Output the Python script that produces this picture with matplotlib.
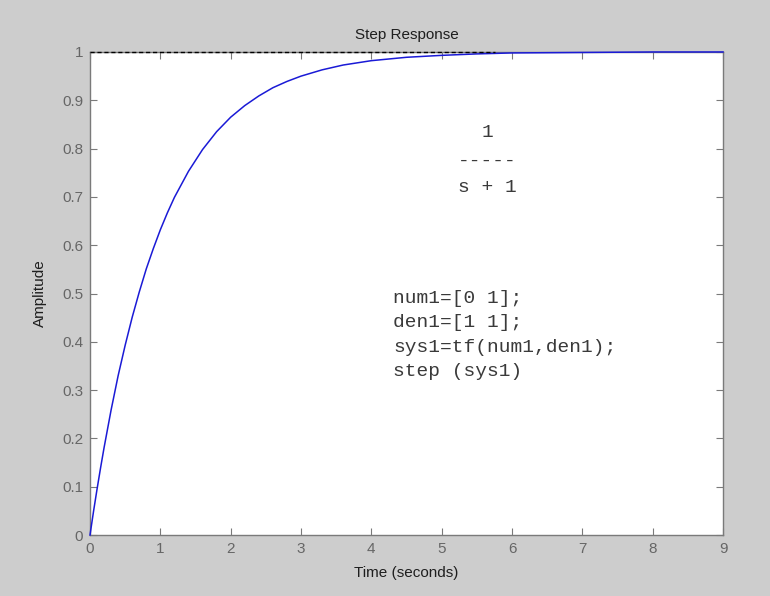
import matplotlib
matplotlib.use("Agg")
import matplotlib.pyplot as plt

# step response samples
time_s = [0, 0.05, 0.1, 0.15, 0.2, 0.3, 0.4, 0.5, 0.6, 0.7, 0.8, 0.9, 1.0,
          1.1, 1.2, 1.4, 1.6, 1.8, 2.0, 2.2, 2.4, 2.6, 2.8, 3.0, 3.3, 3.6,
          4.0, 4.5, 5.0, 5.5, 6.0, 7.0, 8.0, 9.0]
amplitude = [0, 0.049, 0.095, 0.139, 0.181, 0.259, 0.330, 0.393, 0.451, 0.503,
             0.551, 0.593, 0.632, 0.667, 0.699, 0.753, 0.798, 0.835, 0.865,
             0.889, 0.909, 0.926, 0.939, 0.950, 0.963, 0.973, 0.982, 0.989,
             0.993, 0.996, 0.998, 0.999, 1.0, 1.0]
steady_t = [0, 5.76]
steady_y = [1, 1]

x_ticks = list(range(0, 10))
y_ticks = [0, 0.1, 0.2, 0.3, 0.4, 0.5, 0.6, 0.7, 0.8, 0.9, 1]
y_labels = ["0", "0.1", "0.2", "0.3", "0.4", "0.5", "0.6", "0.7", "0.8", "0.9", "1"]

tf_lines = ["1", "-----", "s + 1"]
code_lines = ["num1=[0 1];", "den1=[1 1];", "sys1=tf(num1,den1);", "step (sys1)"]

plt.rcParams["font.family"] = ["Liberation Sans", "DejaVu Sans"]

bg = "#cdcdcd"
axis_gray = "#7a7a7a"

fig = plt.figure(figsize=(7.7, 5.96), dpi=100, facecolor=bg)
ax = fig.add_axes([0.1169, 0.1023, 0.8221, 0.8105])
ax.set_facecolor("white")

# draw on top of the frame, like MATLAB does at y=1
ax.plot(steady_t, steady_y, color="black", linestyle=(0, (3, 2)), linewidth=1.0,
        clip_on=False, zorder=4)
ax.plot(time_s, amplitude, color="#1a1ad6", linewidth=1.1, clip_on=False, zorder=3)

ax.set_xlim(0, 9)
ax.set_ylim(0, 1)
ax.set_xticks(x_ticks)
ax.set_yticks(y_ticks)
ax.set_yticklabels(y_labels)
ax.tick_params(direction="in", length=5, width=0.8, color=axis_gray,
               labelcolor="#666666", labelsize=11, top=True, right=True, pad=5)
for sp in ax.spines.values():
    sp.set_color(axis_gray)
    sp.set_linewidth(1.0)

ax.set_title("Step Response", fontsize=11, color="#1e1e1e", pad=9)
ax.set_xlabel("Time (seconds)", fontsize=11, color="#1e1e1e", labelpad=7)
ax.set_ylabel("Amplitude", fontsize=11, color="#1e1e1e", labelpad=11)

mono = dict(family="Liberation Mono", fontsize=14, color="#3a3a3a")
tf_y = [0.824, 0.765, 0.710]
for s, yy in zip(tf_lines, tf_y):
    ax.text(5.645, yy, s, ha="center", va="baseline", **mono)
code_y = [0.480, 0.431, 0.379, 0.329]
for s, yy in zip(code_lines, code_y):
    ax.text(4.31, yy, s, ha="left", va="baseline", **mono)

fig.savefig("out.png", dpi=100, facecolor=bg)
